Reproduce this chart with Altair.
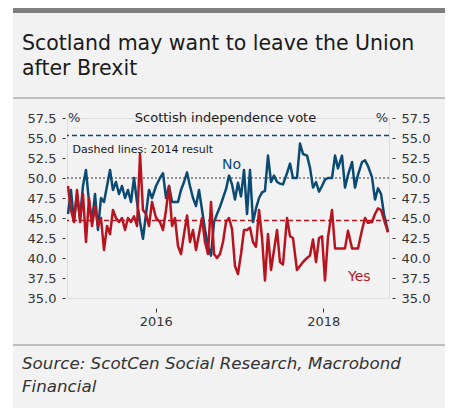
import altair as alt
import pandas as pd

# Poll dates (fractional years)
years = [
    2014.953, 2014.989, 2015.025, 2015.061, 2015.097, 2015.132, 2015.168, 2015.204, 2015.240, 2015.276,
    2015.311, 2015.347, 2015.383, 2015.419, 2015.455, 2015.490, 2015.526, 2015.562, 2015.598, 2015.634,
    2015.669, 2015.705, 2015.741, 2015.777, 2015.813, 2015.848, 2015.884, 2015.920, 2015.956, 2016.004,
    2016.051, 2016.087, 2016.123, 2016.159, 2016.195, 2016.230, 2016.266, 2016.302, 2016.338, 2016.374,
    2016.409, 2016.445, 2016.481, 2016.517, 2016.553, 2016.588, 2016.624, 2016.660, 2016.696, 2016.732,
    2016.767, 2016.803, 2016.839, 2016.875, 2016.911, 2016.946, 2016.982, 2017.018, 2017.054, 2017.090,
    2017.125, 2017.161, 2017.197, 2017.233, 2017.269, 2017.304, 2017.340, 2017.376, 2017.412, 2017.448,
    2017.483, 2017.519, 2017.567, 2017.603, 2017.638, 2017.686, 2017.722, 2017.758, 2017.806, 2017.841,
    2017.877, 2017.913, 2017.949, 2017.985, 2018.020, 2018.056, 2018.104, 2018.140, 2018.175, 2018.223,
    2018.259, 2018.295, 2018.343, 2018.378, 2018.414, 2018.462, 2018.498, 2018.533, 2018.581, 2018.617,
    2018.653, 2018.689, 2018.724, 2018.772,
]

no_vals = [
    45.5, 48.5, 44.5, 48, 45, 49, 51, 47, 44.5, 48,
    43.5, 47.5, 47, 49, 51, 48.5, 49.5, 48, 49, 47.5,
    48.5, 47, 50, 47, 44.5, 42.4, 45.5, 48.5, 47.5, 49,
    50, 50.6, 47.5, 49, 47, 47, 47, 48.5, 49.5, 50.7,
    49, 47.5, 46.5, 48.5, 46, 43.6, 41.5, 40.3, 44.5, 45.5,
    46.4, 47.5, 48.6, 50.3, 49.2, 47.3, 49.4, 47.7, 51, 45.5,
    51, 44.5, 46.2, 47.5, 48.2, 48.4, 52.8, 49.5, 50.3, 49.5,
    49.3, 49.2, 50.6, 51.8, 50, 50, 54.3, 53, 52.8, 51.3,
    48.8, 49.5, 48.3, 49, 49.8, 50, 50, 52.8, 51.2, 52.8,
    48.8, 50.4, 52, 48.8, 50.4, 52, 52.2, 51.5, 50.1, 47.3,
    48.7, 48, 45.5, 43.3,
]

yes_vals = [
    49, 46, 44.5, 48.5, 44.5, 48, 42, 47.5, 44, 46.5,
    44, 45, 41, 44, 43, 46, 45, 44.5, 45, 43.5,
    45, 44.5, 45.2, 44, 53, 46, 45.5, 44, 47, 45,
    44.5, 43.5, 46, 49, 44, 45, 41.5, 40.5, 43, 45.3,
    42, 43.5, 41, 43, 45, 42, 40.5, 47, 40.5, 40,
    40.5, 42, 44.5, 45, 43.6, 39, 38, 40.5, 43.5, 43.5,
    43.8, 42, 41.4, 46, 42.5, 37.2, 43, 38.5, 41, 43.5,
    39.5, 39.2, 45, 42.7, 42.5, 38.5, 39, 39.5, 40, 40.3,
    42.3, 39.5, 42.5, 42.7, 37.2, 42.6, 46, 41.2, 41.2, 41.2,
    41.2, 43.4, 41.2, 41.2, 41.2, 43.5, 45, 44.4, 44.5, 45.5,
    46.2, 46, 44.8, 43.2,
]

result_2014_no = [55.3]
result_2014_yes = [44.7]
y_ticks = [35, 37.5, 40, 42.5, 45, 47.5, 50, 52.5, 55, 57.5]
x_ticks = [2016, 2018]

BLUE = "#0b4a72"
RED = "#b8141f"
FONT = "DejaVu Sans"
PANEL = "#f2f2f2"

df = pd.DataFrame({"year": years, "No": no_vals, "Yes": yes_vals})
one = alt.Data(values=[{}])

xscale = alt.Scale(domain=[2014.9415, 2018.784], nice=False, zero=False)
yscale = alt.Scale(domain=[35, 57.5], nice=False, zero=False)

x_enc = alt.X("year:Q", scale=xscale,
              axis=alt.Axis(values=x_ticks, format="d", domain=False, grid=False, title=None,
                            tickSize=4, offset=10, tickColor="#333333", labelColor="#333333",
                            labelFontSize=13, labelFont=FONT, labelPadding=3, zindex=1))

axis_common = dict(
    values=y_ticks, format=".1f", domain=False, grid=False, title=None,
    tickSize=3, tickColor="#333333", labelColor="#333333", labelFontSize=13,
    labelFont=FONT, labelPadding=6, zindex=1,
)


def strip(x1, x2, y1, y2, color):
    return alt.Chart(one).mark_rect(color=color).encode(
        x=alt.value(x1), x2=alt.value(x2), y=alt.value(y1), y2=alt.value(y2))


# white margins around the grey panel, dark top bar
m_left = strip(-67, -54, -118, 292, "white")
m_top = strip(-67, 382, -118, -110, "white")
m_right = strip(378, 382, -118, 292, "white")
m_bottom = strip(-67, 382, 290, 292, "white")
topbar = strip(-54, 378, -110, -105, "#808080")

sep1 = alt.Chart(one).mark_rule(color="#8a8a8a", strokeWidth=1).encode(
    x=alt.value(-54), x2=alt.value(378), y=alt.value(-20))
sep2 = alt.Chart(one).mark_rule(color="#8a8a8a", strokeWidth=1).encode(
    x=alt.value(-54), x2=alt.value(378), y=alt.value(227))


def label(text, x, y, size, color="#1a1a1a", align="left", baseline="middle", style="normal"):
    return alt.Chart(one).mark_text(align=align, baseline=baseline, fontSize=size, font=FONT,
                                    fontStyle=style, color=color).encode(
        x=alt.value(x), y=alt.value(y), text=alt.value(text))


title1 = label("Scotland may want to leave the Union", -45, -68.5, 20.5, baseline="alphabetic")
title2 = label("after Brexit", -45, -43, 20.5, baseline="alphabetic")
src1 = label("Source: ScotCen Social Research, Macrobond", -45, 250.5, 16.7,
             color="#333333", baseline="alphabetic", style="italic")
src2 = label("Financial", -45, 274, 16.7, color="#333333", baseline="alphabetic", style="italic")

sub = label("Scottish independence vote", 158.5, 0, 13, align="center")
pct_l = label("%", 1, 0, 13, color="#333333")
pct_r = label("%", 321, 0, 13, color="#333333", align="right")
dash_note = label("Dashed lines: 2014 result", 5.5, 31.5, 11)
no_lab = label("No", 155, 47, 14, color=BLUE)
yes_lab = label("Yes", 281, 159, 14, color=RED)

ref50 = alt.Chart(pd.DataFrame({"v": [50]})).mark_rule(
    color="#333333", strokeWidth=1, strokeDash=[2, 2]).encode(
    y=alt.Y("v:Q", scale=yscale, axis=None))
ref_no = alt.Chart(pd.DataFrame({"v": result_2014_no})).mark_rule(
    color=BLUE, strokeWidth=1.5, strokeDash=[5, 3]).encode(
    y=alt.Y("v:Q", scale=yscale, axis=None))
ref_yes = alt.Chart(pd.DataFrame({"v": result_2014_yes})).mark_rule(
    color=RED, strokeWidth=1.5, strokeDash=[5, 3]).encode(
    y=alt.Y("v:Q", scale=yscale, axis=None))

line_no = alt.Chart(df).mark_line(color=BLUE, strokeWidth=2.5, strokeJoin="round").encode(
    x=x_enc,
    y=alt.Y("No:Q", scale=yscale, axis=alt.Axis(orient="left", offset=2, **axis_common)),
)
line_yes = alt.Chart(df).mark_line(color=RED, strokeWidth=2.5, strokeJoin="round").encode(
    x=x_enc,
    y=alt.Y("Yes:Q", scale=yscale, axis=None),
)
right = alt.Chart(df).mark_line(opacity=0).encode(
    x=x_enc,
    y=alt.Y("No:Q", scale=yscale, axis=alt.Axis(orient="right", offset=3, **axis_common)),
)

chart = alt.layer(
    m_left, m_top, m_right, m_bottom, topbar, sep1, sep2,
    title1, title2, src1, src2,
    ref50, ref_no, ref_yes, line_no, line_yes, right,
    sub, pct_l, pct_r, dash_note, no_lab, yes_lab,
).resolve_scale(y="independent").properties(
    width=322, height=180,
    autosize=alt.AutoSizeParams(type="none"),
    padding={"left": 67, "top": 118, "right": 60, "bottom": 112},
    background=PANEL,
).configure_view(stroke=None, fill=PANEL).configure(font=FONT)

chart.save("out.html", embed_options={"renderer": "svg", "actions": False})
